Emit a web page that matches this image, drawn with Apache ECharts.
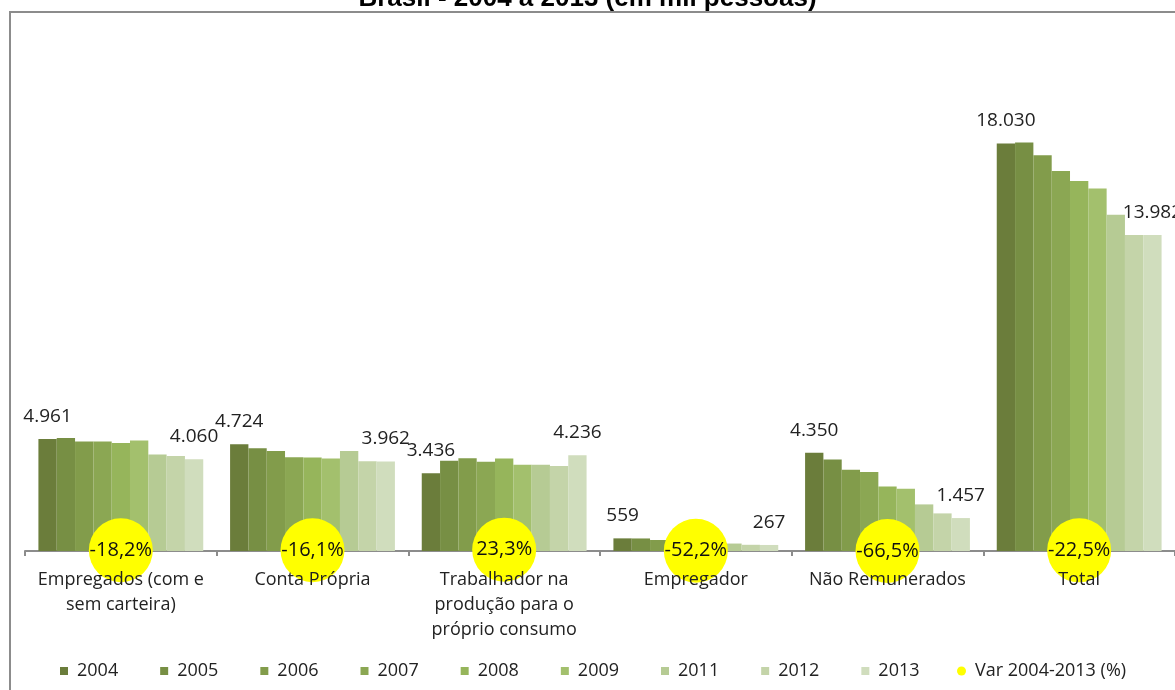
<!DOCTYPE html>
<html>
<head>
<meta charset="utf-8">
<script src="https://cdn.jsdelivr.net/npm/echarts@6/dist/echarts.min.js"></script>
<style>html,body{margin:0;padding:0;background:#fff;}#c{width:1175px;height:690px;}</style>
</head>
<body>
<div id="c"></div>
<script>
const categories = ['Empregados (com e\nsem carteira)', 'Conta Própria', 'Trabalhador na\nprodução para o\npróprio consumo', 'Empregador', 'Não Remunerados', 'Total'];
const years = ['2004', '2005', '2006', '2007', '2008', '2009', '2011', '2012', '2013'];
// values per year, in category order
const v2004 = [4961, 4724, 3436, 559, 4350, 18030];
const v2005 = [5005, 4547, 3996, 555, 4054, 18075];
const v2006 = [4846, 4430, 4100, 487, 3598, 17512];
const v2007 = [4846, 4149, 3954, 470, 3492, 16817];
const v2008 = [4784, 4135, 4090, 440, 2859, 16374];
const v2009 = [4890, 4091, 3821, 410, 2757, 16035];
const v2011 = [4271, 4430, 3815, 330, 2062, 14882];
const v2012 = [4209, 3970, 3760, 275, 1664, 13980];
const v2013 = [4060, 3962, 4236, 267, 1457, 13982];
const varPct = [-18.2, -16.1, 23.3, -52.2, -66.5, -22.5];
const varName = 'Var 2004-2013 (%)';
const title = 'Brasil - 2004 a 2013 (em mil pessoas)';

const yearValues = [v2004, v2005, v2006, v2007, v2008, v2009, v2011, v2012, v2013];
const colors = ['#6b7d3b', '#778f44', '#829c4b', '#8ba753', '#96b55b', '#a3c06d', '#b6cb94', '#c4d4a9', '#d0ddbd'];
const FONT = 'Open Sans';
function fmt(v) { return String(v).replace(/\B(?=(\d{3})+(?!\d))/g, '.'); }

const series = yearValues.map((vals, i) => ({
  name: years[i],
  type: 'bar',
  data: vals,
  itemStyle: { color: colors[i] },
  barGap: '0%',
  barCategoryGap: '14%',
  label: {
    show: i === 0 || i === yearValues.length - 1,
    position: 'top',
    distance: 13,
    formatter: p => fmt(p.value),
    fontFamily: FONT, fontSize: 19, color: '#222'
  }
}));
series.push({
  name: varName,
  type: 'scatter',
  yAxisIndex: 1,
  data: varPct.map((v, i) => [i, v]),
  symbolSize: 64,
  itemStyle: { color: '#ffff00', opacity: 1 },
  z: 5,
  label: {
    show: true, position: 'inside',
    formatter: p => String(p.value[1]).replace('.', ',') + '%',
    fontFamily: FONT, fontSize: 20, color: '#111'
  }
});

const chart = echarts.init(document.getElementById('c'));
chart.setOption({
  animation: false,
  backgroundColor: '#fff',
  title: {
    text: title, left: 'center', top: -19,
    textStyle: { fontFamily: 'Liberation Sans', fontWeight: 'bold', fontSize: 26, color: '#000' }
  },
  graphic: [{
    type: 'rect', shape: { x: 10, y: 12, width: 1300, height: 800 },
    style: { fill: 'none', stroke: '#8c8c8c', lineWidth: 2 }, silent: true, z: -1
  }],
  grid: { left: 25, right: 0, top: 99, bottom: 139 },
  xAxis: [{
    type: 'category', data: categories, position: 'bottom',
    axisLine: { lineStyle: { color: '#8c8c8c', width: 2 } },
    axisTick: { show: true, length: 5, lineStyle: { color: '#8c8c8c', width: 2 } },
    axisLabel: { show: false }
  }, {
    type: 'category', data: categories, position: 'bottom', offset: 0, z: 10,
    axisLine: { show: false }, axisTick: { show: false },
    axisLabel: { interval: 0, margin: 16, lineHeight: 25, fontFamily: FONT, fontSize: 18, color: '#222' }
  }],
  yAxis: [
    { type: 'value', min: 0, max: 20000, show: false },
    { type: 'value', min: -67, max: 30000, show: false }
  ],
  legend: [{
    data: years, left: 55, top: 657, icon: 'rect', itemWidth: 8, itemHeight: 8,
    itemGap: 42,
    textStyle: { fontFamily: FONT, fontSize: 18, color: '#222', padding: [0, 0, 0, 4] }
  }, {
    data: [varName], left: 952, top: 657, icon: 'circle', itemWidth: 9, itemHeight: 9,
    textStyle: { fontFamily: FONT, fontSize: 18, color: '#222', padding: [0, 0, 0, 4] }
  }],
  series: series
});
</script>
</body>
</html>
